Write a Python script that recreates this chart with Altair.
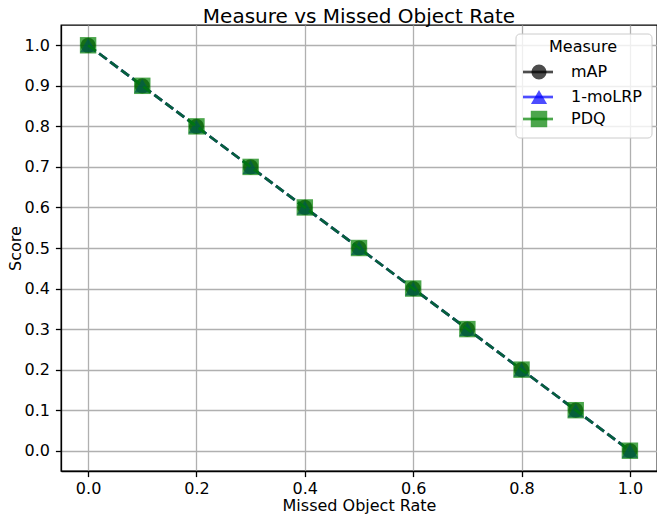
import altair as alt
import pandas as pd

rates = [0.0, 0.1, 0.2, 0.3, 0.4, 0.5, 0.6, 0.7, 0.8, 0.9, 1.0]
map_scores = [1.0, 0.9, 0.8, 0.7, 0.6, 0.5, 0.4, 0.3, 0.2, 0.1, 0.0]
molrp_scores = [1.0, 0.9, 0.8, 0.7, 0.6, 0.5, 0.4, 0.3, 0.2, 0.1, 0.0]
pdq_scores = [1.0, 0.9, 0.8, 0.7, 0.6, 0.5, 0.4, 0.3, 0.2, 0.1, 0.0]

series_names = ["mAP", "1-moLRP", "PDQ"]
series_colors = ["#000000", "#0000ff", "#008000"]
series_shapes = ["circle", "triangle-up", "square"]
series_sizes = [230, 260, 270]
series_values = [map_scores, molrp_scores, pdq_scores]
x_ticks = [0.0, 0.2, 0.4, 0.6, 0.8, 1.0]
y_ticks = [0.0, 0.1, 0.2, 0.3, 0.4, 0.5, 0.6, 0.7, 0.8, 0.9, 1.0]
chart_title = "Measure vs Missed Object Rate"

W, H = 596, 446
FONT = "DejaVu Sans"

xs = alt.Scale(domain=[-0.05, 1.05], nice=False, zero=False)
ys = alt.Scale(domain=[-0.05, 1.05], nice=False, zero=False)
x_axis = alt.Axis(values=x_ticks, format=".1f", title="Missed Object Rate",
                  labelPadding=4, titlePadding=1)
y_axis = alt.Axis(values=y_ticks, format=".1f", title="Score",
                  labelPadding=6, titlePadding=0)

layers = []
for i, (name, color, shape, vals) in enumerate(zip(series_names, series_colors, series_shapes, series_values)):
    df = pd.DataFrame({"rate": rates, "score": vals, "series": name})
    x = alt.X("rate:Q", scale=xs, axis=x_axis)
    y = alt.Y("score:Q", scale=ys, axis=y_axis)
    line = alt.Chart(df).mark_line(color=color, opacity=0.7, strokeWidth=2.7,
                                   strokeDash=[9.6, 4.2]).encode(x=x, y=y)
    pts = alt.Chart(df).mark_point(shape=shape, filled=True, color=color, opacity=0.7,
                                   size=series_sizes[i]).encode(x=x, y=y)
    layers += [line, pts]

# title as a text mark above the plot
title_layer = alt.Chart(pd.DataFrame({"t": [chart_title]})).mark_text(
    font=FONT, fontSize=20, color="black", align="center", baseline="alphabetic"
).encode(text="t:N", x=alt.value(W / 2), y=alt.value(-2))

# legend (drawn inside the plot, upper right)
legend_layers = []
legend_layers.append(alt.Chart(pd.DataFrame({"a": [0]})).mark_rect(
    fill="white", fillOpacity=0.8, stroke="#cccccc", strokeWidth=1, cornerRadius=4
).encode(x=alt.value(455), x2=alt.value(591), y=alt.value(9), y2=alt.value(113)))
legend_layers.append(alt.Chart(pd.DataFrame({"t": ["Measure"]})).mark_text(
    font=FONT, fontSize=16, color="black", align="center", baseline="middle"
).encode(text="t:N", x=alt.value(522), y=alt.value(22)))
entry_y = [47, 72, 94]
for i, (name, color, shape) in enumerate(zip(series_names, series_colors, series_shapes)):
    d = pd.DataFrame({"label": [name]})
    legend_layers.append(alt.Chart(d).mark_rule(color=color, opacity=0.7, strokeWidth=2.7).encode(
        x=alt.value(462), x2=alt.value(492), y=alt.value(entry_y[i])))
    legend_layers.append(alt.Chart(d).mark_point(shape=shape, filled=True, color=color, opacity=0.7,
                                                 size=series_sizes[i]).encode(
        x=alt.value(478), y=alt.value(entry_y[i])))
    legend_layers.append(alt.Chart(d).mark_text(font=FONT, fontSize=16, color="black", align="left",
                                                baseline="middle").encode(
        text="label:N", x=alt.value(510), y=alt.value(entry_y[i])))

chart = alt.layer(*layers, title_layer, *legend_layers).properties(
    width=W, height=H,
    autosize=alt.AutoSizeParams(type="none"),
    padding={"left": 53, "top": 17, "right": 0, "bottom": 43},
).configure_view(stroke="black", strokeWidth=1.3).configure_axis(
    labelFont=FONT, titleFont=FONT, labelFontSize=16, titleFontSize=16,
    titleFontWeight="normal", labelColor="black", titleColor="black",
    grid=True, gridColor="#b0b0b0", gridWidth=1.3,
    domainColor="black", domainWidth=1.3, tickColor="black", tickSize=5.6, tickWidth=1.3,
)

chart.save("out.html", embed_options={"renderer": "svg", "actions": False})
